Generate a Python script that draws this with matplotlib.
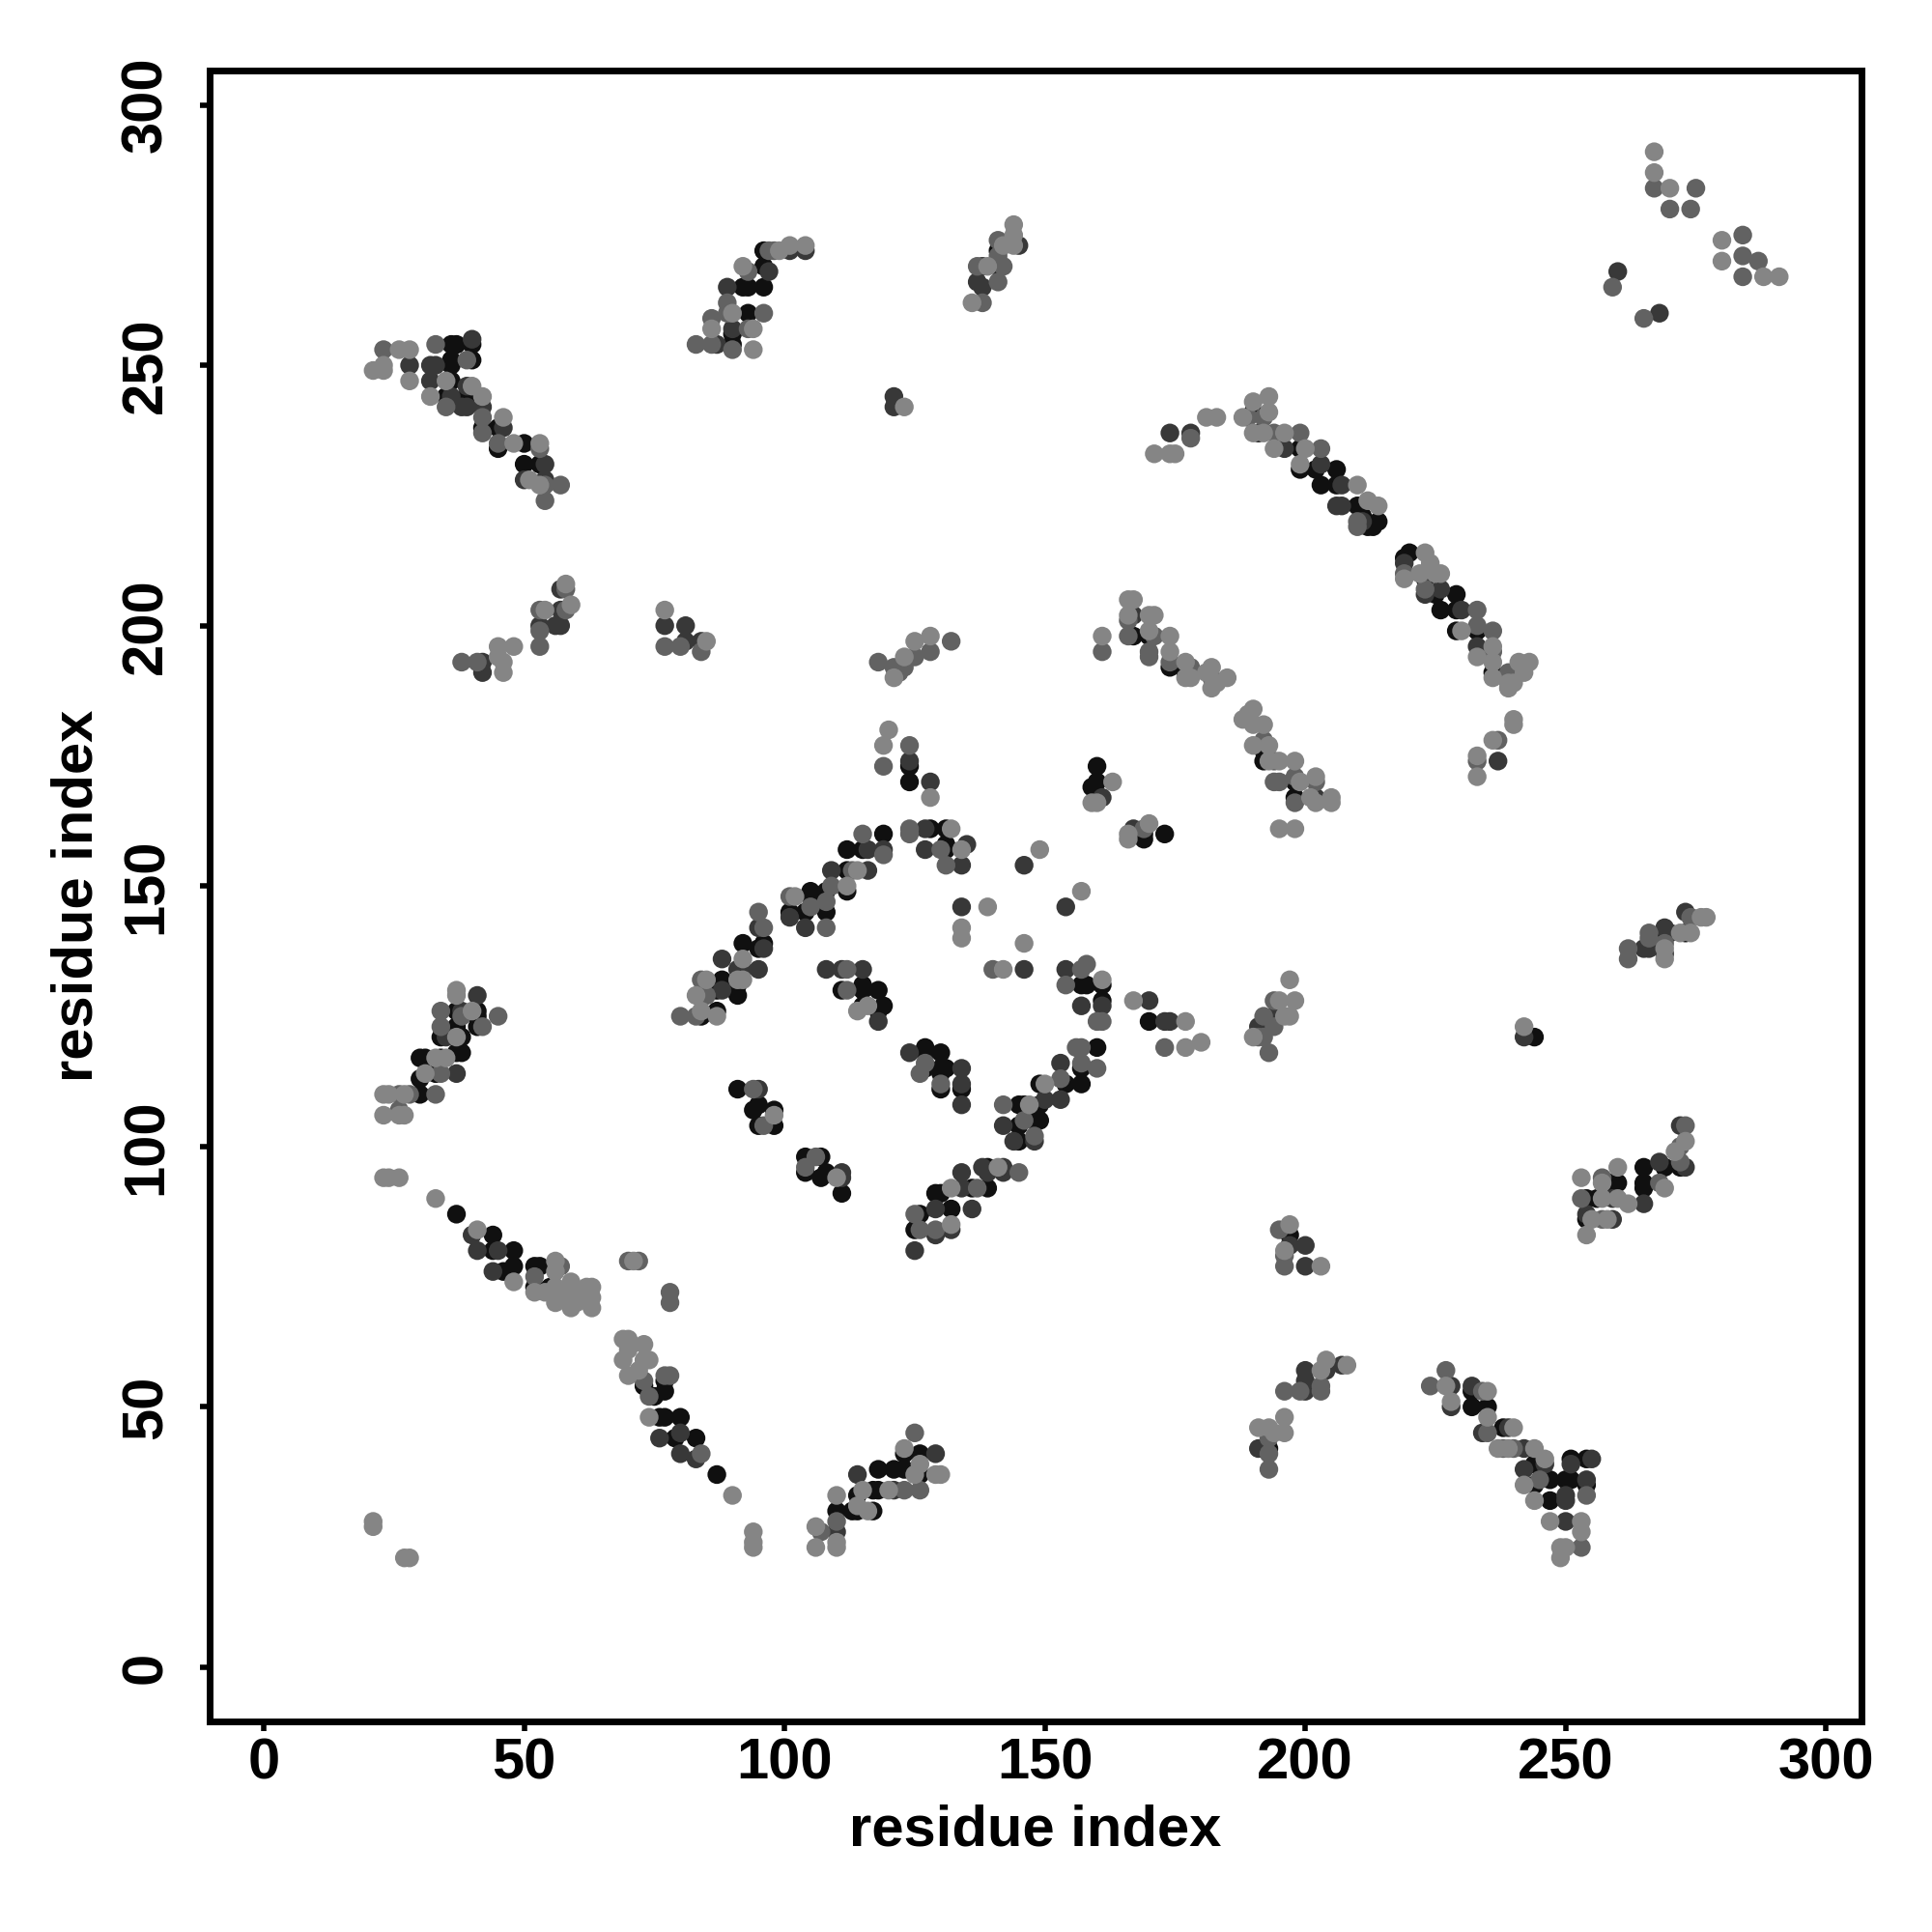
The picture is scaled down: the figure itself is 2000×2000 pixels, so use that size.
import matplotlib
matplotlib.use("Agg")
import matplotlib.pyplot as plt

# Each contact: (residue i, residue j, score 0..3); higher score is darker.
upper_left = [(21,249,0),(23,253,1),(23,249,0),(23,250,0),(26,253,0),(28,253,0),(28,250,2),(28,247,0),(33,254,1),(32,250,2),(33,250,2),(32,247,2),(32,244,0),(36,254,3),(37,254,3),(40,255,2),(40,254,3),(36,251,3),(36,250,3),(40,251,3),(39,251,1),(36,247,3),(35,247,0),(35,244,3),(35,242,1),(36,244,2),(39,246,2),(40,246,0),(39,244,3),(39,242,2),(38,242,2),(42,244,0),(42,242,2),(42,240,1),(42,237,1),(42,238,3),(46,240,0),(46,238,2),(45,238,3),(45,234,3),(45,235,1),(48,235,0),(50,235,3),(53,235,0),(53,234,1),(50,231,3),(54,231,2),(53,231,3),(50,228,2),(51,228,0),(54,228,2),(53,227,0),(54,227,1),(57,227,1),(54,224,1)]
left_200 = [(38,193,1),(41,193,1),(42,193,2),(42,191,2),(45,196,0),(48,196,0),(46,193,0),(45,194,0),(46,191,0),(53,196,1),(53,200,2),(53,199,1),(53,203,1),(54,203,0),(57,200,2),(56,200,2),(57,203,2),(58,203,1),(59,204,0),(57,207,2),(58,208,0),(58,207,1)]
near_80_200 = [(77,203,0),(77,200,2),(81,200,2),(77,196,1),(80,196,1),(81,197,2),(84,195,1),(84,197,2),(85,197,0)]
top_90 = [(83,254,1),(86,259,1),(86,257,0),(86,254,1),(87,254,2),(89,265,2),(89,262,1),(89,260,1),(90,254,3),(90,253,1),(90,260,0),(90,257,2),(90,256,3),(94,253,0),(94,257,0),(93,260,3),(96,260,1),(93,257,1),(92,265,3),(93,265,3),(96,265,3),(92,269,0),(93,268,1),(96,269,3),(97,268,2),(96,272,3),(97,272,1),(98,272,1),(99,272,0),(101,273,0),(101,272,2),(104,273,0),(104,272,2)]
top_140 = [(136,262,0),(138,262,1),(137,266,2),(138,265,2),(141,266,1),(137,269,1),(138,269,2),(139,269,0),(141,269,3),(142,269,1),(141,274,1),(141,272,3),(141,271,1),(142,273,0),(144,277,0),(144,275,0),(145,273,2),(144,273,0)]
diag_up = [(80,125,1),(83,125,1),(84,125,3),(84,126,0),(87,126,3),(87,125,0),(83,129,0),(84,129,3),(85,129,1),(84,132,1),(85,132,0),(88,132,3),(87,130,3),(88,130,2),(91,129,3),(91,131,3),(91,132,0),(92,132,0),(88,136,2),(91,134,2),(92,134,2),(95,134,2),(92,139,3),(92,136,0),(96,138,2),(96,139,3),(95,138,3),(96,142,1),(95,142,2),(95,145,1),(101,148,1),(102,148,0),(101,145,3),(101,144,2),(104,142,2),(105,149,3),(105,148,3),(105,146,1),(104,145,3),(108,142,1),(108,145,3),(108,147,1),(108,149,3),(109,150,1),(112,150,0),(112,149,3),(109,153,2),(112,153,3),(112,157,3),(113,153,1),(114,153,0),(116,153,2),(116,157,2),(115,160,1),(119,160,3),(119,157,2),(119,156,1),(115,157,3)]
top_of_loop = [(124,161,1),(124,160,1),(127,161,2),(128,161,3),(131,161,3),(132,161,0),(127,157,2),(131,158,3),(131,157,3),(130,157,1),(131,154,1),(134,154,2),(134,157,0),(135,158,2)]
above_loop = [(120,180,0),(119,177,0),(119,173,1),(124,177,1),(124,174,2),(124,173,3),(124,170,3),(128,170,2),(128,167,0)]
inside_loop = [(146,154,2),(149,157,0),(134,146,2),(139,146,0),(134,142,0),(134,140,0),(154,146,2),(157,149,0),(146,139,0),(140,134,1),(142,134,0),(146,134,2)]
right_loop = [(154,134,2),(158,135,1),(157,134,1),(154,131,1),(157,131,3),(158,131,3),(161,132,0),(161,131,3),(157,127,2),(161,128,3),(161,127,2),(160,124,1),(161,124,1),(167,128,0)]
inner_a = [(108,134,2),(111,134,2),(112,134,1),(115,134,2),(111,130,3),(112,130,1),(115,131,3),(115,130,3),(118,130,3),(114,126,0),(115,127,3),(116,127,0),(119,127,3),(118,126,3),(118,124,2)]
inner_b = [(124,118,2),(127,119,3),(127,118,3),(130,118,3),(127,116,1),(126,114,1),(127,115,3),(130,115,3),(131,115,3),(130,114,3),(130,111,3),(130,112,1),(134,115,2),(134,112,2),(134,111,3),(134,108,2)]
inner_c = [(91,111,3),(94,111,1),(95,111,2),(94,107,3),(95,108,3),(98,107,3),(98,106,0),(95,104,3),(96,104,1),(98,104,3)]
inner_d = [(104,98,3),(104,96,1),(104,95,3),(107,98,3),(106,98,1),(107,94,3),(108,95,3),(111,95,2),(111,94,2),(110,94,0),(111,91,3)]
diag_low = [(125,80,2),(125,87,1),(125,84,3),(126,84,1),(126,87,3),(129,83,2),(129,84,1),(129,88,2),(129,91,3),(130,91,3),(132,88,3),(132,85,0),(132,84,2),(132,92,0),(134,92,2),(136,88,2),(136,92,3),(139,92,3),(137,92,1),(134,95,2),(138,96,2),(139,96,3),(139,95,2),(141,96,0),(142,96,2),(142,95,2),(145,95,1)]
diag_high = [(142,108,1),(142,104,2),(145,108,3),(145,104,3),(146,108,3),(145,101,3),(144,101,2),(146,105,1),(148,102,1),(148,101,2),(148,105,3),(149,105,3),(147,108,0),(149,108,3),(149,112,3),(150,112,0),(150,109,2),(153,109,2),(153,116,2),(153,113,1),(154,112,3),(157,112,3),(157,116,1),(157,115,3),(156,119,1),(157,119,1),(160,119,3),(160,115,1)]
left_120 = [(23,106,0),(23,110,0),(24,110,0),(26,110,1),(27,110,0),(28,110,1),(30,110,3),(33,110,1),(26,107,1),(27,106,0),(26,106,0),(30,113,3),(30,117,3),(31,117,3),(31,114,0),(33,114,3),(34,114,1),(37,114,2),(33,117,0),(34,117,3),(35,117,0),(34,121,3),(35,121,2),(34,123,1),(34,126,1),(37,118,3),(38,118,3),(37,121,0),(38,121,3),(37,126,3),(38,126,2),(38,125,1),(41,126,3),(41,125,3),(41,129,2),(37,130,0),(37,129,0),(40,126,0),(42,123,1),(41,123,3),(45,125,1),(37,123,3)]
left_90 = [(23,94,0),(24,94,0),(26,94,0),(33,90,0),(37,87,3),(41,84,0),(40,83,2),(44,83,3),(41,80,2),(44,80,3),(45,80,2),(44,76,2),(48,80,3),(48,77,3),(46,76,3),(48,74,0),(52,77,3),(53,77,3),(52,73,3),(52,72,0),(52,75,1),(56,78,0),(57,77,1),(55,73,3),(56,73,0),(54,72,0),(56,70,0),(59,74,0),(59,69,0),(62,73,0),(63,73,0),(63,69,0),(60,70,0),(58,72,0),(56,76,0),(57,71,0),(61,72,0),(63,71,0),(62,72,0)]
near_75 = [(70,78,1),(72,78,1),(71,78,0),(78,72,1),(78,70,1)]
diag_down = [(69,63,0),(70,63,0),(73,62,0),(69,59,0),(70,61,0),(70,56,0),(73,59,0),(74,59,0),(72,57,0),(73,55,1),(73,54,3),(77,56,1),(78,56,1),(77,55,3),(74,52,1),(77,53,3),(75,52,3),(74,48,0),(76,48,3),(77,48,3),(80,48,3),(76,44,2),(79,44,3),(80,45,2),(83,44,3),(80,41,2),(83,40,2),(84,41,1),(87,37,3),(90,33,0),(94,26,0),(94,24,0),(94,23,0),(21,28,0),(21,27,0),(27,21,0),(28,21,0)]
bottom_115 = [(106,23,0),(106,27,0),(107,26,1),(110,23,0),(110,24,0),(110,26,2),(110,28,1),(110,30,3),(110,33,0),(113,30,3),(114,30,3),(114,31,0),(114,33,3),(114,37,2),(115,34,0),(117,30,3),(116,30,0),(118,34,3),(118,38,3),(117,34,3),(121,38,3),(121,34,2),(120,34,0),(123,34,1),(123,38,3),(123,42,0),(123,41,3),(126,34,1),(126,37,3),(126,41,3),(125,45,1),(129,41,2),(129,37,0),(130,37,0),(125,37,0),(126,39,0)]
bottom_240 = [(227,57,1),(224,54,1),(227,54,0),(228,54,2),(232,54,2),(232,53,3),(235,53,0),(234,53,1),(228,51,0),(228,50,2),(232,50,3),(235,50,3),(235,48,0),(234,45,2),(235,45,1),(238,46,3),(239,46,2),(240,46,0),(237,42,0),(238,42,1),(239,42,0),(240,42,1),(242,42,2),(244,42,0),(242,38,2),(244,39,3),(246,40,0),(246,39,2),(242,35,0),(244,35,3),(245,36,1),(247,36,3),(250,36,3),(251,36,3),(254,36,2),(254,35,3),(251,40,3),(251,39,2),(254,40,3),(255,40,2),(244,32,0),(247,32,3),(250,32,2),(250,33,2),(254,33,1),(247,28,0),(250,28,2),(253,28,0),(253,26,0),(253,23,1),(249,23,0),(250,23,0),(249,21,0)]
near_175_235 = [(171,233,0),(174,233,0),(175,233,0),(174,237,2),(178,237,2),(178,236,1),(181,240,0),(183,240,0)]
long_a = [(188,240,0),(189,240,1),(190,241,3),(190,243,0),(193,244,0),(193,241,0),(192,240,1),(190,237,0),(191,237,3),(192,237,0),(194,237,1),(196,237,0),(199,237,1),(194,234,0),(196,234,2),(199,234,3),(200,234,0),(203,234,1),(199,231,0),(199,230,3),(202,230,3),(203,231,2),(206,230,3),(203,227,3),(206,227,3),(207,227,2),(210,227,0),(206,223,2),(207,223,2),(210,223,3),(212,224,0),(214,223,0),(210,219,1),(211,220,2),(212,219,3),(213,219,3),(214,220,3),(210,220,1),(211,221,3)]
long_b = [(220,214,3),(219,213,3),(219,212,2),(219,210,1),(219,209,0),(223,214,0),(224,212,0),(223,210,2),(223,209,3),(222,210,0),(223,207,1),(223,206,2),(226,210,0),(225,210,0),(226,207,2),(225,206,3),(229,206,3),(226,203,3),(229,203,3),(230,203,2),(233,203,1),(229,199,3),(230,199,0),(233,200,1),(233,199,3),(236,199,1),(233,196,2),(233,194,0),(236,196,0),(236,195,1),(236,193,0),(236,191,3),(236,190,0),(239,191,1),(239,189,0),(239,188,0),(240,190,3),(241,193,0),(243,193,0),(242,191,0),(240,189,0)]
mid_170 = [(161,198,0),(161,195,1),(166,205,0),(167,205,0),(166,202,0),(167,202,2),(166,201,1),(166,198,1),(167,198,3),(170,202,0),(171,202,0),(170,199,0),(171,198,1),(170,198,3),(170,195,1),(170,194,1),(174,198,0),(174,195,0),(174,193,1),(174,192,3),(177,193,0),(178,192,1),(177,191,3),(177,190,0),(178,190,0),(182,192,0),(181,191,0),(182,188,0),(183,189,0),(185,190,0),(182,190,1)]
mid_195 = [(190,184,0),(188,182,0),(189,183,0),(190,181,0),(192,181,0),(190,177,0),(192,178,1),(193,177,0),(192,176,3),(192,174,3),(193,174,0),(194,174,1),(195,174,0),(198,174,0),(194,170,1),(195,170,1),(198,171,1),(198,170,3),(199,170,0),(202,171,0),(202,170,1),(198,167,3),(198,166,1),(201,167,0),(202,167,2),(202,166,0),(205,167,0),(205,166,0),(195,161,0),(198,161,0)]
small_160 = [(160,173,3),(159,169,3),(160,170,3),(163,170,0),(161,167,2),(159,166,0),(160,166,0),(166,160,0),(166,159,0),(167,161,2),(169,160,3),(169,159,3),(170,162,0),(173,160,3),(169,161,1)]
right_140 = [(262,138,1),(262,136,1),(265,138,2),(266,138,2),(266,141,1),(266,140,1),(269,138,0),(269,137,2),(269,136,0),(269,139,1),(269,142,2),(270,141,2),(269,141,3),(272,141,0),(273,145,2),(273,141,3),(274,141,0),(274,144,1),(276,144,0),(277,144,0)]
right_95 = [(253,94,0),(253,90,1),(254,90,3),(254,87,2),(254,86,3),(254,83,0),(255,86,0),(257,94,1),(257,93,0),(256,90,3),(257,90,0),(257,86,1),(258,86,0),(259,86,2),(259,93,3),(260,93,3),(260,96,0),(259,90,2),(260,90,0),(262,89,0),(265,96,3),(265,93,3),(265,92,3),(265,89,2),(268,97,2),(269,96,3),(268,93,1),(269,92,0),(273,96,2),(272,96,3),(272,97,1),(271,99,0),(272,100,1),(273,101,0),(272,104,2),(273,104,1)]
mid_125 = [(197,132,0),(194,128,1),(195,128,0),(198,128,0),(197,125,0),(196,125,0),(194,125,2),(192,125,1),(191,123,2),(192,123,3),(190,121,0),(191,121,1),(192,121,1),(193,118,1),(194,123,1)]
mid_80 = [(195,84,1),(197,85,0),(197,83,3),(197,81,2),(196,80,0),(200,81,2),(196,77,1),(200,77,2),(203,77,0),(196,79,1)]
mid_55 = [(200,57,2),(200,55,2),(204,59,0),(203,57,0),(204,57,2),(208,58,0),(207,58,2),(203,53,1),(203,54,1),(200,53,2),(199,53,1),(196,53,1)]
mid_45 = [(196,48,0),(191,46,0),(193,46,0),(196,45,0),(194,45,0),(193,44,1),(193,42,3),(191,42,2),(193,41,1),(193,38,1)]
top_right = [(267,291,0),(267,287,0),(267,284,1),(270,284,0),(270,280,1),(275,284,1),(274,280,1),(260,268,2),(259,265,1),(265,259,1),(268,260,2),(280,274,0),(280,270,0),(284,275,1),(284,271,1),(284,267,1),(287,270,1),(288,267,0),(291,267,0)]
middle_bits = [(121,244,2),(121,242,2),(123,242,0),(118,193,1),(121,190,0),(121,192,1),(123,192,1),(123,194,0),(125,197,0),(125,194,1),(128,198,0),(128,195,1),(132,197,1),(122,191,1),(237,178,1),(233,174,1),(233,171,0),(237,174,2),(240,182,0),(240,181,0),(233,175,0),(236,178,0),(170,128,2),(170,124,3),(173,124,2),(174,124,2),(173,119,1),(177,119,0),(177,124,0),(180,120,0),(242,123,0),(242,121,2),(244,121,3)]

x_ticks = [0, 50, 100, 150, 200, 250, 300]
y_ticks = [0, 50, 100, 150, 200, 250, 300]
axis_label = "residue index"

clusters = [upper_left, left_200, near_80_200, top_90, top_140, diag_up, top_of_loop, above_loop,
            inside_loop, right_loop, inner_a, inner_b, inner_c, inner_d, diag_low, diag_high,
            left_120, left_90, near_75, diag_down, bottom_115, bottom_240, near_175_235, long_a,
            long_b, mid_170, mid_195, small_160, right_140, right_95, mid_125, mid_80, mid_55,
            mid_45, top_right, middle_bits]
points = [p for c in clusters for p in c]
points.sort(key=lambda p: -p[2])  # darker first, lighter on top
shade = {0: "#858585", 1: "#626262", 2: "#383838", 3: "#101010"}

plt.rcParams["font.family"] = ["Liberation Sans", "DejaVu Sans"]
plt.rcParams["font.weight"] = "bold"
fig = plt.figure(figsize=(20, 20), dpi=100, facecolor="white")
ax = fig.add_axes([217/2000, 1 - 1782/2000, (1927-217)/2000, (1782-73)/2000])
ax.scatter([p[0] for p in points], [p[1] for p in points],
           c=[shade[p[2]] for p in points], s=195, linewidths=0, zorder=3)
ax.set_xlim(-10.4, 306.8)
ax.set_ylim(-10.4, 306.6)
ax.set_xticks(x_ticks)
ax.set_yticks(y_ticks)
ax.tick_params(axis="x", length=7, width=4, labelsize=43, pad=5)
ax.tick_params(axis="y", length=7, width=4, labelsize=43, pad=20)
for lab in ax.get_yticklabels():
    lab.set_rotation(90)
    lab.set_va("center")
for s in ax.spines.values():
    s.set_linewidth(5)
ax.set_xlabel(axis_label, fontsize=43, fontweight="bold", labelpad=10)
ax.set_ylabel(axis_label, fontsize=43, fontweight="bold", labelpad=12)
fig.savefig("out.png", dpi=100, facecolor="white")
